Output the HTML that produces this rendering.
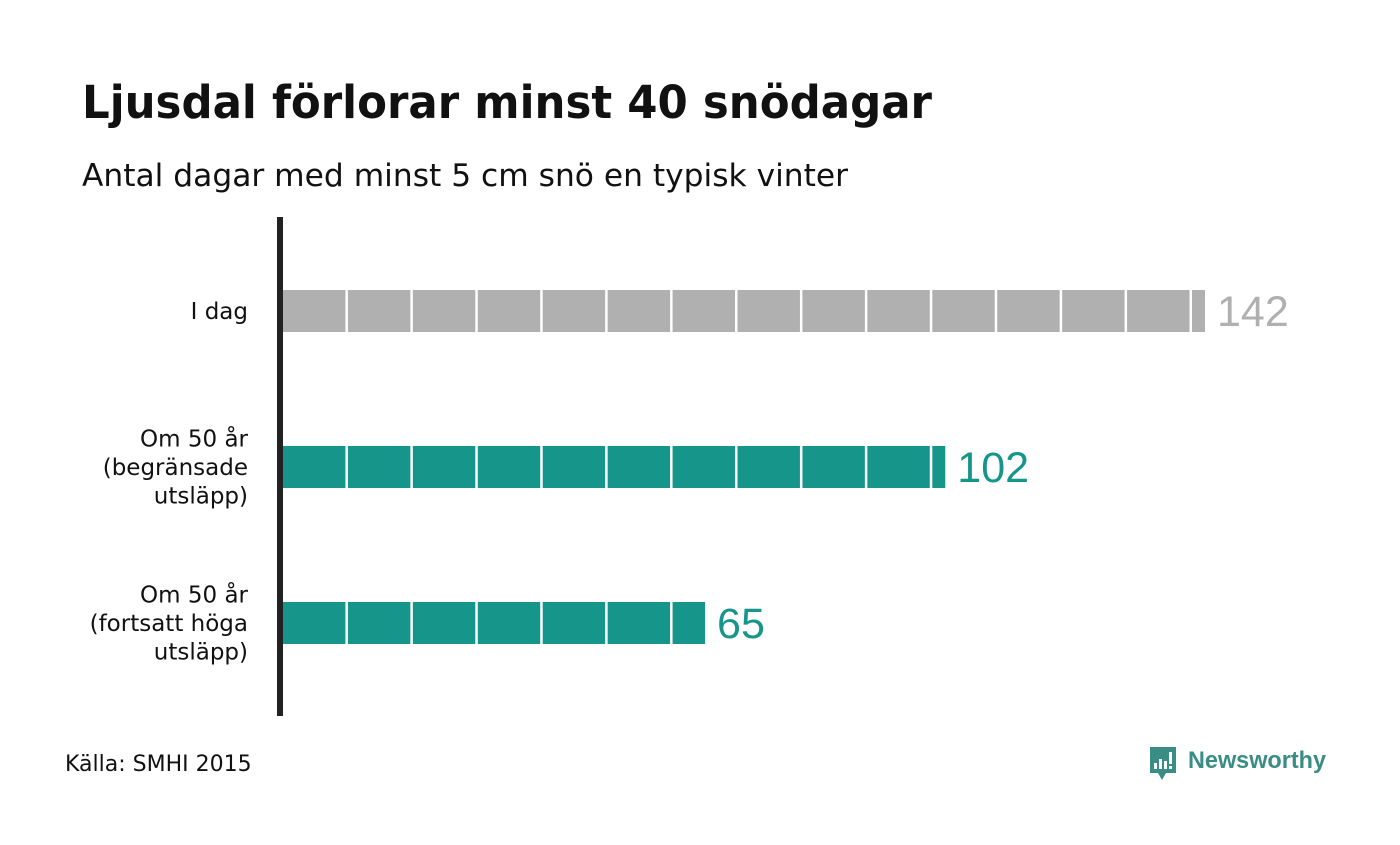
<!DOCTYPE html>
<html><head><meta charset="utf-8"><style>
body{margin:0;background:#fff;font-family:"Liberation Sans","DejaVu Sans",sans-serif;}
.dv{font-family:"DejaVu Sans","Liberation Sans",sans-serif;}
.lib{font-family:"Liberation Sans",sans-serif;}
</style></head><body>
<svg width="1400" height="840" xmlns="http://www.w3.org/2000/svg">
<rect width="1400" height="840" fill="#fff"/>
<text class="dv" x="82" y="118" font-size="45" font-weight="bold" fill="#111" textLength="850" lengthAdjust="spacingAndGlyphs">Ljusdal förlorar minst 40 snödagar</text>
<text class="dv" x="82" y="186" font-size="31" fill="#111" textLength="766" lengthAdjust="spacingAndGlyphs">Antal dagar med minst 5 cm snö en typisk vinter</text>
<g id="bars"></g>
<rect x="277" y="217" width="6" height="499" fill="#222"/>
<text class="dv" x="65" y="771" font-size="22" fill="#111">Källa: SMHI 2015</text>
<g>
<path d="M1150 747 h26 v26 h-10 l-4 7 l-4 -7 h-8 z" fill="#3a8d85"/>
<rect x="1154" y="763" width="3" height="6" fill="#fff"/><rect x="1159" y="759" width="3" height="10" fill="#fff"/><rect x="1164" y="761" width="3" height="8" fill="#fff"/><rect x="1169" y="752" width="3" height="12" fill="#fff"/><rect x="1169" y="766" width="3" height="3" fill="#fff"/>
<text class="lib" x="1188" y="768" font-size="24" font-weight="bold" fill="#3a8d85" textLength="138" lengthAdjust="spacingAndGlyphs">Newsworthy</text>
</g>
</svg>
<script>
const categories=[["I dag"],["Om 50 år","(begränsade","utsläpp)"],["Om 50 år","(fortsatt höga","utsläpp)"]];
const values=[142,102,65];
const colors=["#b0b0b0","#16968a","#16968a"];
const x0=283,pxPerUnit=922/142;
const xs=v=>x0+v*pxPerUnit;
const rowCenters=i=>311+i*156;
const g=document.getElementById('bars');
const NS="http://www.w3.org/2000/svg";
values.forEach((v,i)=>{
  const cy=rowCenters(i);
  for(let s=0;s<v;s+=10){
    const e=Math.min(s+10,v);
    const r=document.createElementNS(NS,'rect');
    const a=xs(s),b=xs(e)-(e<v?2.5:0);
    r.setAttribute('x',a);r.setAttribute('y',cy-21);
    r.setAttribute('width',Math.max(0,b-a));r.setAttribute('height',42);
    r.setAttribute('fill',colors[i]);
    
    
    g.appendChild(r);
  }
  const t=document.createElementNS(NS,'text');
  t.setAttribute('x',xs(v)+12);t.setAttribute('y',cy+15);
  t.setAttribute('font-size','43');t.setAttribute('fill',colors[i]);
  t.setAttribute('class','lib');
  t.textContent=v;
  
  
  g.appendChild(t);
  const lines=categories[i];
  const lh=28.5,start=cy+8-(lines.length-1)*lh/2;
  lines.forEach((ln,j)=>{
    const c=document.createElementNS(NS,'text');
    c.setAttribute('x',248);c.setAttribute('y',start+j*lh);
    c.setAttribute('text-anchor','end');c.setAttribute('font-size','23');c.setAttribute('fill','#111');
    c.setAttribute('class','dv');
    c.textContent=ln;
    
    
    g.appendChild(c);
  });
});
</script>
</body></html>
